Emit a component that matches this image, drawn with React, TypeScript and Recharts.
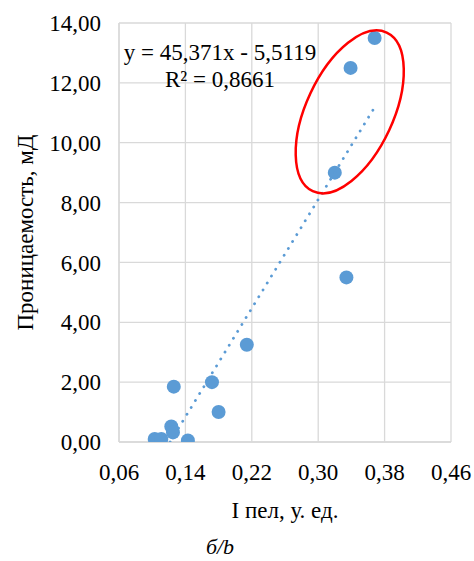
import React from 'react';
import { ScatterChart, Scatter, XAxis, YAxis, CartesianGrid, ReferenceDot } from 'recharts';

const xValues = [0.103, 0.111, 0.123, 0.125, 0.126, 0.143, 0.172, 0.18, 0.214, 0.32, 0.334, 0.339, 0.368];
const yValues = [0.1, 0.1, 0.52, 0.32, 1.85, 0.05, 2.0, 1.0, 3.25, 9.0, 5.5, 12.5, 13.5];
const trendX = [0.1215, 0.368];
const trendY = [0, 11.185];
const xTicks = [0.06, 0.14, 0.22, 0.3, 0.38, 0.46];
const yTicks = [0, 2, 4, 6, 8, 10, 12, 14];
const ellipseCenter = { x: 0.338, y: 11.03 };

const points = xValues.map((x, i) => ({ x, y: yValues[i] }));
const trend = trendX.map((x, i) => ({ x, y: trendY[i] }));

const FONT = "'Liberation Serif', 'Times New Roman', 'DejaVu Serif', serif";
const fmt = (v: number) => v.toFixed(2).replace('.', ',');
const textStyle: React.CSSProperties = { fontFamily: FONT };

const EllipseShape = (props: any) => {
  const { cx, cy } = props;
  return (
    <ellipse
      cx={cx}
      cy={cy}
      rx={43.5}
      ry={87.5}
      transform={`rotate(25 ${cx} ${cy})`}
      fill="none"
      stroke="#ff0000"
      strokeWidth={2.5}
    />
  );
};

const YTitle = (props: any) => {
  const vb = props.viewBox || { y: 23, height: 419 };
  const cx = 25;
  const cy = vb.y + vb.height / 2;
  return (
    <text
      x={cx}
      y={cy}
      transform={`rotate(-90 ${cx} ${cy})`}
      textAnchor="middle"
      dominantBaseline="central"
      style={textStyle}
      fontSize={23}
      fill="#000"
    >
      Проницаемость, мД
    </text>
  );
};

const XTitle = () => (
  <g style={textStyle} fill="#000">
    <text x={285} y={510} textAnchor="middle" dominantBaseline="central" fontSize={23} style={textStyle}>
      I пел, у. ед.
    </text>
    <text x={220} y={554} textAnchor="middle" fontSize={22} fontStyle="italic" style={textStyle}>
      б/b
    </text>
    <text x={220} y={60} textAnchor="middle" fontSize={23} style={textStyle}>
      y = 45,371x - 5,5119
    </text>
    <text x={220} y={87} textAnchor="middle" fontSize={23} style={textStyle}>
      R² = 0,8661
    </text>
  </g>
);

export default function App() {
  return (
    <div style={{ position: 'absolute', left: 0, top: 0, background: '#fff', fontFamily: FONT }}>
      <ScatterChart width={474} height={561} margin={{ top: 23, right: 23, left: 19, bottom: 59 }} style={textStyle}>
        <CartesianGrid stroke="#d9d9d9" strokeWidth={1.3} />
        <XAxis
          type="number"
          dataKey="x"
          domain={[0.06, 0.46]}
          ticks={xTicks}
          tickFormatter={fmt}
          height={60}
          tickLine={false}
          tickSize={0}
          tickMargin={22}
          axisLine={{ stroke: '#d9d9d9', strokeWidth: 1.3 }}
          tick={{ fontFamily: FONT, fontSize: 23, fill: '#000', style: textStyle }}
          allowDataOverflow
          label={{ content: <XTitle /> }}
        />
        <YAxis
          type="number"
          dataKey="y"
          domain={[0, 14]}
          ticks={yTicks}
          tickFormatter={fmt}
          width={100}
          tickLine={false}
          tickSize={0}
          tickMargin={18}
          axisLine={{ stroke: '#d9d9d9', strokeWidth: 1.3 }}
          tick={{ fontFamily: FONT, fontSize: 23, fill: '#000', style: textStyle }}
          allowDataOverflow
          label={{ content: (p: any) => <YTitle {...p} /> }}
        />
        <Scatter
          data={points}
          fill="#5b9bd5"
          isAnimationActive={false}
          shape={(p: any) => <circle cx={p.cx} cy={p.cy} r={7} fill="#5b9bd5" />}
        />
        <Scatter
          data={trend}
          isAnimationActive={false}
          line={{ stroke: '#5b9bd5', strokeWidth: 2.8, strokeDasharray: '0.1 8', strokeLinecap: 'round' }}
          shape={() => <g />}
        />
        <ReferenceDot
          x={ellipseCenter.x}
          y={ellipseCenter.y}
          r={1}
          shape={(p: any) => <EllipseShape {...p} />}
        />
      </ScatterChart>
    </div>
  );
}
